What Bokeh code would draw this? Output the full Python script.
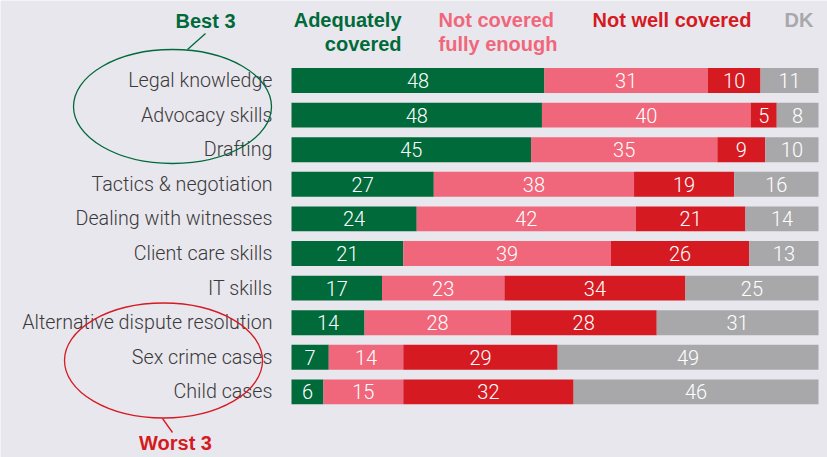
from bokeh.plotting import figure
from bokeh.models import Range1d, ColumnDataSource
from bokeh.core.properties import value
from bokeh.embed import file_html
from bokeh.resources import INLINE

# ---- data ----
categories = ["Legal knowledge", "Advocacy skills", "Drafting", "Tactics & negotiation",
              "Dealing with witnesses", "Client care skills", "IT skills",
              "Alternative dispute resolution", "Sex crime cases", "Child cases"]
adequately = [48, 48, 45, 27, 24, 21, 17, 14, 7, 6]
not_fully = [31, 40, 35, 38, 42, 39, 23, 28, 14, 15]
not_well = [10, 5, 9, 19, 21, 26, 34, 28, 29, 32]
dk = [11, 8, 10, 16, 14, 13, 25, 31, 49, 46]
series_names = ["Adequately covered", "Not covered fully enough", "Not well covered", "DK"]

BG = "#e9e7ee"
colors = ["#006a3a", "#f0667a", "#d51a22", "#a8a8ab"]
FONT = value("Liberation Sans")
LIGHT = value("'Roboto Light', 'Liberation Sans'")

# ---- geometry helpers (page pixel -> data) ----
W, H = 827, 457
PX_PER_UNIT_X = 5.27
PX_PER_ROW = 34.6
X0 = -291 / PX_PER_UNIT_X
Y0 = -80 / PX_PER_ROW

def X(px):
    return X0 + px / PX_PER_UNIT_X

def Y(py):
    return Y0 + py / PX_PER_ROW

p = figure(width=W, height=H, output_backend="svg", toolbar_location=None,
           x_range=Range1d(X0, X0 + W / PX_PER_UNIT_X),
           y_range=Range1d(Y0 + H / PX_PER_ROW, Y0),
           background_fill_color=BG, border_fill_color=BG,
           outline_line_color=None, min_border=0)
p.axis.visible = False
p.grid.visible = False

series = [adequately, not_fully, not_well, dk]
rows = list(range(len(categories)))
totals = [sum(s[i] for s in series) for i in rows]

left = [0.0] * len(rows)
for k, s in enumerate(series):
    share = [s[i] / totals[i] * 100 for i in rows]
    right = [left[i] + share[i] for i in rows]
    src = ColumnDataSource(dict(y=rows, left=left, right=right,
                                mid=[(left[i] + right[i]) / 2 for i in rows],
                                label=[str(v) for v in s]))
    p.hbar(y="y", left="left", right="right", height=0.72, source=src,
           fill_color=colors[k], line_color=None)
    p.text(x="mid", y="y", text="label", source=src, text_color="white",
           text_font=LIGHT, text_font_size="20px", text_align="center",
           text_baseline="middle")
    left = right

# category labels
p.text(x=[0] * len(rows), y=rows, text=categories, x_offset=-19,
       text_font=LIGHT, text_font_size="19.7px", text_color="#3a3a3a",
       text_align="right", text_baseline="middle")

# header legend
def txt(x, y, t, color, align="left"):
    p.text(x=[x], y=[y], text=[t], text_font=FONT, text_font_size="20px",
           text_font_style="bold", text_color=color, text_align=align,
           text_baseline="middle")

txt(X(401), Y(19), "Adequately", colors[0], "right")
txt(X(401), Y(43), "covered", colors[0], "right")
txt(X(438), Y(19), "Not covered", colors[1])
txt(X(438), Y(43), "fully enough", colors[1])
txt(X(592), Y(19), "Not well covered", colors[2])
txt(X(784), Y(19), "DK", colors[3])

# annotations
txt(X(205), Y(20), "Best 3", colors[0], "center")
txt(X(175), Y(442), "Worst 3", colors[2], "center")

p.ellipse(x=[X(172)], y=[Y(106)], width=[198], height=[114],
          width_units="screen", height_units="screen",
          fill_color=None, line_color=colors[0], line_width=1.3)
p.ellipse(x=[X(163)], y=[Y(360)], width=[198], height=[115],
          width_units="screen", height_units="screen",
          fill_color=None, line_color=colors[2], line_width=1.3)
p.segment(x0=[X(205)], y0=[Y(33)], x1=[X(187)], y1=[Y(49)],
          line_color=colors[0], line_width=1.3)
p.segment(x0=[X(162)], y0=[Y(418)], x1=[X(172)], y1=[Y(432)],
          line_color=colors[2], line_width=1.3)

html = file_html(p, INLINE)
html = html.replace("<body>", '<body style="background-color:%s;">' % BG, 1)
open("out.html", "w").write(html)
